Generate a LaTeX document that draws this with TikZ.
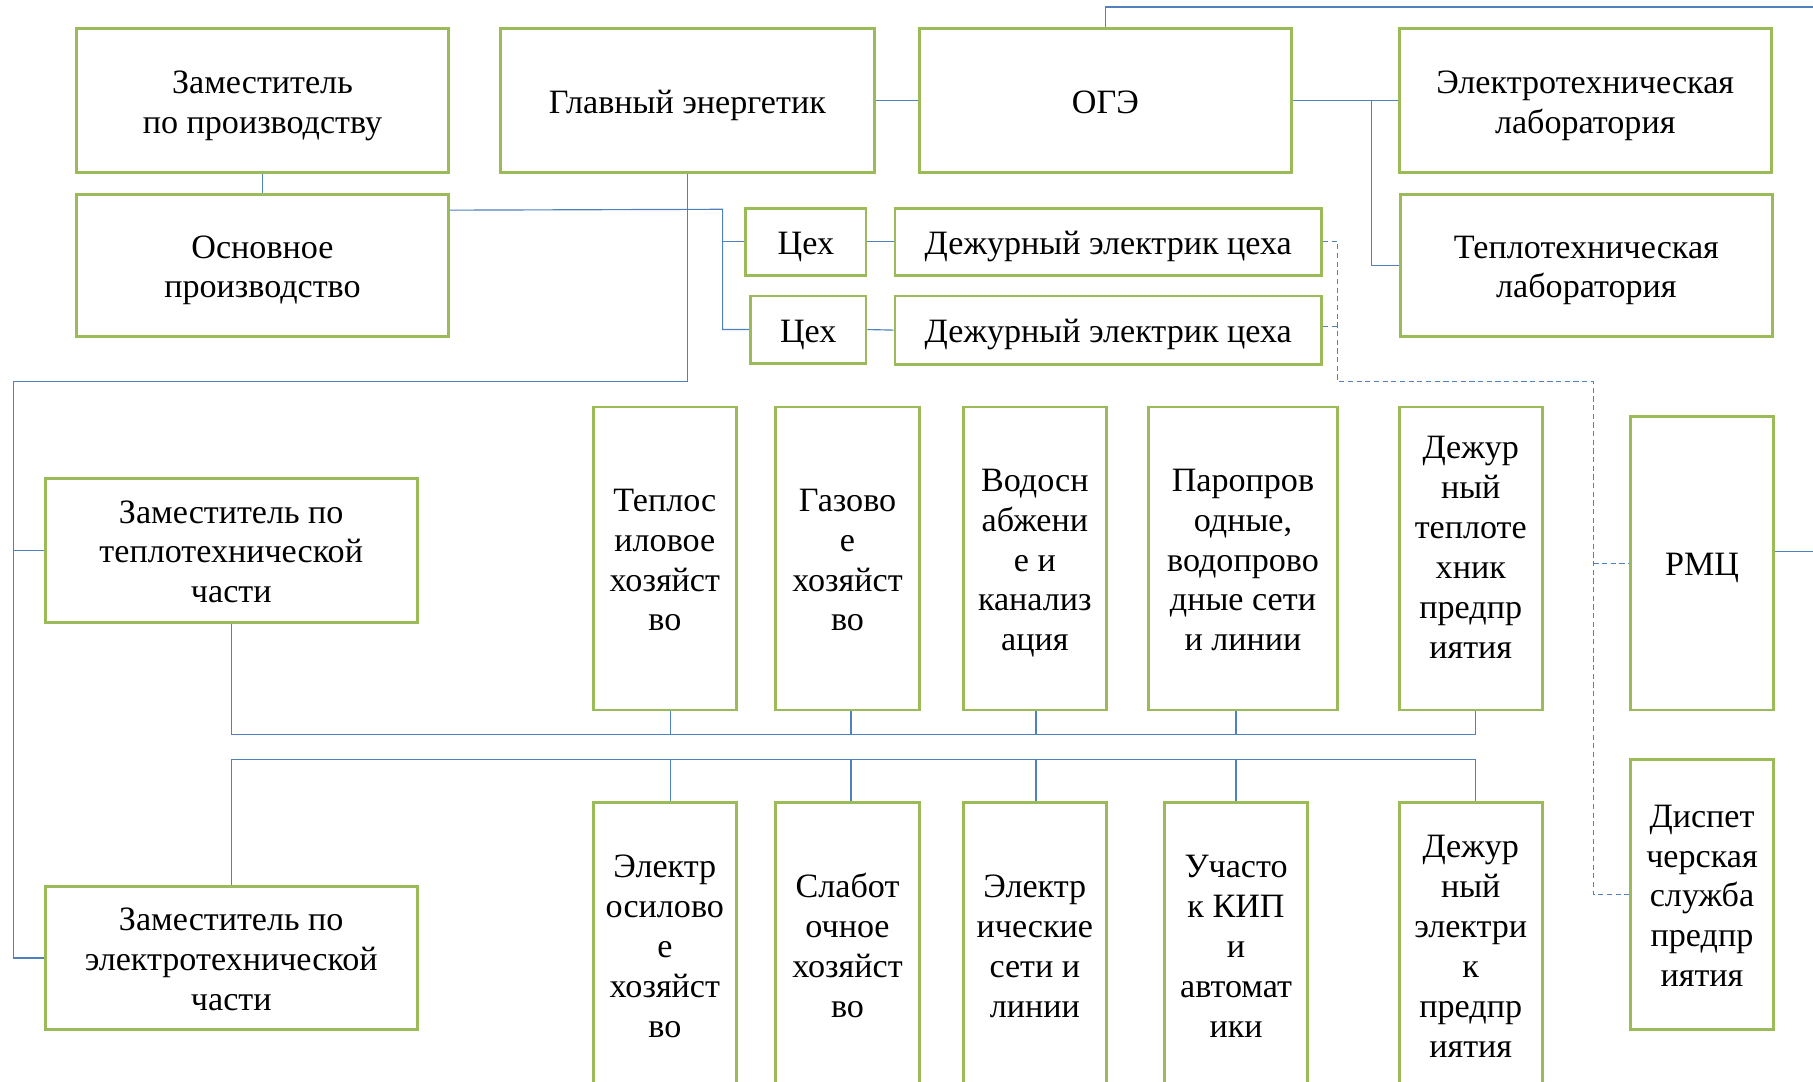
\documentclass[tikz,border=0pt]{standalone}
\usepackage{fontspec}
\setmainfont{Liberation Serif}
\usetikzlibrary{calc}
\definecolor{bgreen}{HTML}{9BBB59}
\definecolor{lblue}{HTML}{4F81BD}
\tikzset{
 box/.style={draw=bgreen, line width=2.5pt, inner sep=0pt, font=\fontsize{29.5}{34.5}\selectfont, fill=white},
 conn/.style={draw=lblue, line width=1pt},
 dconn/.style={conn, dash pattern=on 4.5pt off 3pt},
}
\newcommand\bx[7][-4pt]{\node[box, minimum width={(#5-#3)*1pt}, minimum height={(#6-#4)*1pt}] (#2) at ({(#3+#5)/2},{(#4+#6)/2}) {\raisebox{#1}[\height][\depth]{\begin{tabular}{@{}c@{}}#7\end{tabular}}};}
\begin{document}
\begin{tikzpicture}[x=1pt,y=-1pt]
\useasboundingbox (0,0) rectangle (1568,935);
\clip (0,0) rectangle (1568,935);
\fill[white] (0,0) rectangle (1568,935);
% top boxes
\bx{zp}{66}{25}{388}{149}{Заместитель\\по производству}
\bx{osn}{66}{168}{388}{291}{Основное\\производство}
\bx{glav}{433}{25}{756}{149}{Главный энергетик}
\bx{oge}{795}{25}{1117}{149}{ОГЭ}
\bx{elab}{1210}{25}{1532}{149}{Электротехническая\\лаборатория}
\bx{tlab}{1211}{168}{1533}{291}{Теплотехническая\\лаборатория}
\bx{ceh1}{645}{180}{749}{238}{Цех}
\bx{dez1}{774}{180}{1143}{238}{Дежурный электрик цеха}
\bx{ceh2}{649}{256}{749}{314}{Цех}
\bx{dez2}{774}{256}{1143}{315}{Дежурный электрик цеха}
% deputies
\bx{zt}{39}{414}{361}{538}{Заместитель по\\теплотехнической\\части}
\bx{zel}{39}{767}{361}{890}{Заместитель по\\электротехнической\\части}
% upper row
\bx{teplos}{513}{352}{637}{614}{Теплос\\иловое\\хозяйст\\во}
\bx{gaz}{671}{352}{795}{614}{Газово\\е\\хозяйст\\во}
\bx{vodo}{833}{352}{957}{614}{Водосн\\абжени\\е и\\канализ\\ация}
\bx{paro}{993}{352}{1157}{614}{Паропров\\одные,\\водопрово\\дные сети\\и линии}
\bx[7pt]{dezt}{1210}{352}{1334}{614}{Дежур\\ный\\теплоте\\хник\\предпр\\иятия}
\bx{rmc}{1410}{360}{1534}{614}{РМЦ}
% lower row
\bx{elsil}{513}{694}{637}{940}{Электр\\осилово\\е\\хозяйст\\во}
\bx{slab}{671}{694}{795}{940}{Слабот\\очное\\хозяйст\\во}
\bx{elset}{833}{694}{957}{940}{Электр\\ические\\сети и\\линии}
\bx{kip}{1007}{694}{1131}{940}{Участо\\к КИП\\и\\автомат\\ики}
\bx{deze}{1210}{694}{1334}{940}{Дежур\\ный\\электри\\к\\предпр\\иятия}
\bx{disp}{1410}{657}{1534}{890}{Диспет\\черская\\служба\\предпр\\иятия}
% coordinates
\coordinate (topR) at (1568,6);
\coordinate (labbus) at (1186,0);
\coordinate (cehbus) at (625,181);
\coordinate (lbus) at (12,330);
\coordinate (ub) at (0,635);
\coordinate (lb) at (0,657);
\coordinate (dv) at (1157,0);
\coordinate (rv) at (1378,330);
\coordinate (rr) at (1568,477);
% connectors
\draw[conn] (zp.south) -- (osn.north);
\draw[conn] (glav.east) -- (oge.west);
\draw[conn] (oge.north) |- (topR);
\draw[conn] (oge.east) -- (elab.west);
\draw[conn] (labbus |- oge.east) |- (tlab.west);
\draw[conn] ([yshift=-15pt]osn.north east) -- (cehbus) -- (cehbus |- ceh2.west) -- (ceh2.west);
\draw[conn] (cehbus |- ceh1.west) -- (ceh1.west);
\draw[conn] (ceh1.east) -- (dez1.west);
\draw[conn] (ceh2.east) -- (dez2.west);
\draw[conn] (glav.south) |- (lbus) -- (lbus |- zel.west) -- (zel.west);
\draw[conn] (lbus |- zt.west) -- (zt.west);
% upper bus
\draw[conn] (zt.south) |- ([xshift=4pt]ub -| dezt.south) -- ([xshift=4pt]dezt.south);
\draw[conn] ([xshift=5pt]ub -| teplos.south) -- ([xshift=5pt]teplos.south);
\draw[conn] ([xshift=3pt]ub -| gaz.south) -- ([xshift=3pt]gaz.south);
\draw[conn] ([xshift=1pt]ub -| vodo.south) -- ([xshift=1pt]vodo.south);
\draw[conn] ([xshift=-6pt]ub -| paro.south) -- ([xshift=-6pt]paro.south);
% lower bus
\draw[conn] (zel.north) |- ([xshift=4pt]lb -| deze.north) -- ([xshift=4pt]deze.north);
\draw[conn] ([xshift=5pt]lb -| elsil.north) -- ([xshift=5pt]elsil.north);
\draw[conn] ([xshift=3pt]lb -| slab.north) -- ([xshift=3pt]slab.north);
\draw[conn] ([xshift=1pt]lb -| elset.north) -- ([xshift=1pt]elset.north);
\draw[conn] (lb -| kip.north) -- (kip.north);
% dashed
\draw[dconn] (dez1.east) -- (dv |- dez1.east) -- (dv |- rv) -- (rv) -- (rv |- disp.west) -- (disp.west);
\draw[dconn] ([yshift=3pt]dez2.east) -- ([yshift=3pt]dv |- dez2.east);
\draw[dconn] (rv |- rmc.west) -- (rmc.west);
\draw[conn] ([yshift=10pt]rmc.east) -- (rr);
\end{tikzpicture}
\end{document}
